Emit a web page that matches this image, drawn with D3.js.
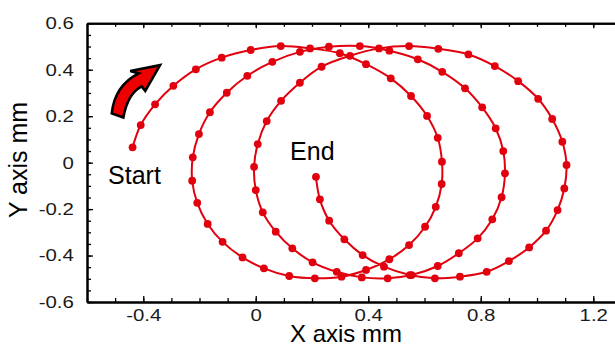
<!DOCTYPE html>
<html>
<head>
<meta charset="utf-8">
<script src="https://cdn.jsdelivr.net/npm/d3@7"></script>
<style>
  body { margin: 0; background: #fff; }
  svg { display: block; font-family: "Liberation Sans", Arial, sans-serif; }
</style>
</head>
<body>
<script>
const width = 615;
const height = 346;

// sampled positions of the trajectory (mm), in order from Start to End
const xVals = [
  -0.438, -0.409, -0.358, -0.293, -0.213, -0.121, -0.018, 0.089, 0.193, 0.299,
  0.392, 0.480, 0.552, 0.609, 0.647, 0.662, 0.661, 0.640, 0.602, 0.545,
  0.475, 0.392, 0.305, 0.210, 0.119, 0.029, -0.047, -0.118, -0.171, -0.208,
  -0.226, -0.224, -0.202, -0.163, -0.103, -0.030, 0.059, 0.157, 0.260, 0.370,
  0.475, 0.576, 0.663, 0.744, 0.805, 0.853, 0.880, 0.886, 0.874, 0.841,
  0.789, 0.722, 0.647, 0.554, 0.469, 0.377, 0.288, 0.202, 0.130, 0.071,
  0.025, 0.000, -0.006, 0.007, 0.039, 0.090, 0.157, 0.234, 0.335, 0.438,
  0.545, 0.649, 0.756, 0.850, 0.933, 1.004, 1.054, 1.090, 1.105, 1.097,
  1.073, 1.032, 0.972, 0.900, 0.821, 0.726, 0.637, 0.548, 0.456, 0.380,
  0.315, 0.261, 0.228, 0.214
];
const yVals = [
  0.066, 0.162, 0.251, 0.331, 0.402, 0.452, 0.485, 0.502, 0.492, 0.471,
  0.424, 0.363, 0.287, 0.201, 0.107, 0.004, -0.092, -0.190, -0.276, -0.355,
  -0.416, -0.462, -0.491, -0.498, -0.488, -0.455, -0.408, -0.341, -0.264, -0.173,
  -0.078, 0.023, 0.123, 0.217, 0.301, 0.374, 0.434, 0.477, 0.499, 0.502,
  0.482, 0.445, 0.391, 0.320, 0.238, 0.148, 0.050, -0.046, -0.149, -0.244,
  -0.326, -0.390, -0.445, -0.484, -0.498, -0.494, -0.470, -0.429, -0.369, -0.297,
  -0.214, -0.118, -0.018, 0.080, 0.179, 0.266, 0.344, 0.413, 0.460, 0.492,
  0.502, 0.490, 0.466, 0.416, 0.351, 0.275, 0.188, 0.090, -0.010, -0.111,
  -0.204, -0.293, -0.365, -0.424, -0.470, -0.491, -0.498, -0.484, -0.448, -0.398,
  -0.330, -0.250, -0.158, -0.061
];

const yMajor = [-0.6, -0.4, -0.2, 0, 0.2, 0.4, 0.6];
const yMinor = d3.range(-12, 13).map(i => i * 0.05);
const xMajor = [-0.4, 0, 0.4, 0.8, 1.2];
const xMinor = d3.range(-6, 14).map(i => i / 10);

const points = xVals.map((v, i) => [v, yVals[i]]);

const red = '#e2000e';

const x = d3.scaleLinear().domain([-0.6, 1.3]).range([87, 621.4]);
const y = d3.scaleLinear().domain([-0.6, 0.6]).range([302, 23.3]);

const fmt = d => d === 0 ? '0' : d.toFixed(1);

const svg = d3.select('body').append('svg')
    .attr('width', width)
    .attr('height', height);

// minor ticks first, then major axes on top
function styleAxis(g) {
    g.select('.domain').attr('stroke', '#000').attr('stroke-width', 2);
    g.selectAll('.tick line').attr('stroke', '#000').attr('stroke-width', 1.3);
    g.selectAll('.tick text')
        .attr('fill', '#1a1a1a')
        .style('font-size', '17px')
        .attr('transform', 'scale(1.2,1)');
}

svg.append('g')
    .attr('transform', `translate(${x.range()[0]},0)`)
    .call(d3.axisLeft(y).tickValues(yMinor).tickSize(-4).tickSizeOuter(0).tickFormat(''))
    .call(styleAxis);
svg.append('g')
    .attr('transform', `translate(${x.range()[0]},0)`)
    .call(d3.axisLeft(y).tickValues(yMajor).tickSize(-6).tickSizeOuter(0).tickPadding(11).tickFormat(fmt))
    .call(styleAxis);

svg.append('g')
    .attr('transform', `translate(0,${y.range()[0]})`)
    .call(d3.axisBottom(x).tickValues(xMinor).tickSize(-4).tickSizeOuter(0).tickFormat(''))
    .call(styleAxis);
svg.append('g')
    .attr('transform', `translate(0,${y.range()[0]})`)
    .call(d3.axisBottom(x).tickValues(xMajor).tickSize(-6).tickSizeOuter(0).tickPadding(7).tickFormat(fmt))
    .call(styleAxis);

svg.append('g')
    .attr('transform', `translate(0,${y.range()[1]})`)
    .call(d3.axisTop(x).tickValues(xMinor).tickSize(-3.5).tickSizeOuter(0).tickFormat(''))
    .call(styleAxis);
svg.append('g')
    .attr('transform', `translate(0,${y.range()[1]})`)
    .call(d3.axisTop(x).tickValues(xMajor).tickSize(-5).tickSizeOuter(0).tickFormat(''))
    .call(styleAxis);

// trajectory
const line = d3.line()
    .x(d => x(d[0]))
    .y(d => y(d[1]))
    .curve(d3.curveCatmullRom.alpha(0.5));

svg.append('path')
    .datum(points)
    .attr('fill', 'none')
    .attr('stroke', red)
    .attr('stroke-width', 2)
    .attr('d', line);

svg.append('g')
    .attr('fill', red)
    .selectAll('circle')
    .data(points)
    .enter().append('circle')
    .attr('cx', d => x(d[0]))
    .attr('cy', d => y(d[1]))
    .attr('r', 3.9);

// annotations
svg.append('text')
    .attr('x', x(-0.525))
    .attr('y', y(-0.092))
    .style('font-size', '25px')
    .text('Start');

svg.append('text')
    .attr('x', x(0.122))
    .attr('y', y(0.011))
    .style('font-size', '25px')
    .text('End');

svg.append('path')
    .attr('transform', `translate(${x(-0.512)},${y(0.212)})`)
    .attr('d', 'M0,0 Q3,-28 27,-40 L18.5,-42.5 L48.3,-48.3 L33.5,-22.5 L30,-27 Q16,-20 11.6,4 Z')
    .attr('fill', '#ee0000')
    .attr('stroke', '#000')
    .attr('stroke-width', 2.6)
    .attr('stroke-linejoin', 'miter');

// axis titles
svg.append('text')
    .attr('x', 346)
    .attr('y', 342)
    .attr('text-anchor', 'middle')
    .style('font-size', '24px')
    .text('X axis mm');

svg.append('text')
    .attr('transform', 'translate(27,160) rotate(-90)')
    .attr('text-anchor', 'middle')
    .style('font-size', '25px')
    .text('Y axis mm');
</script>
</body>
</html>
